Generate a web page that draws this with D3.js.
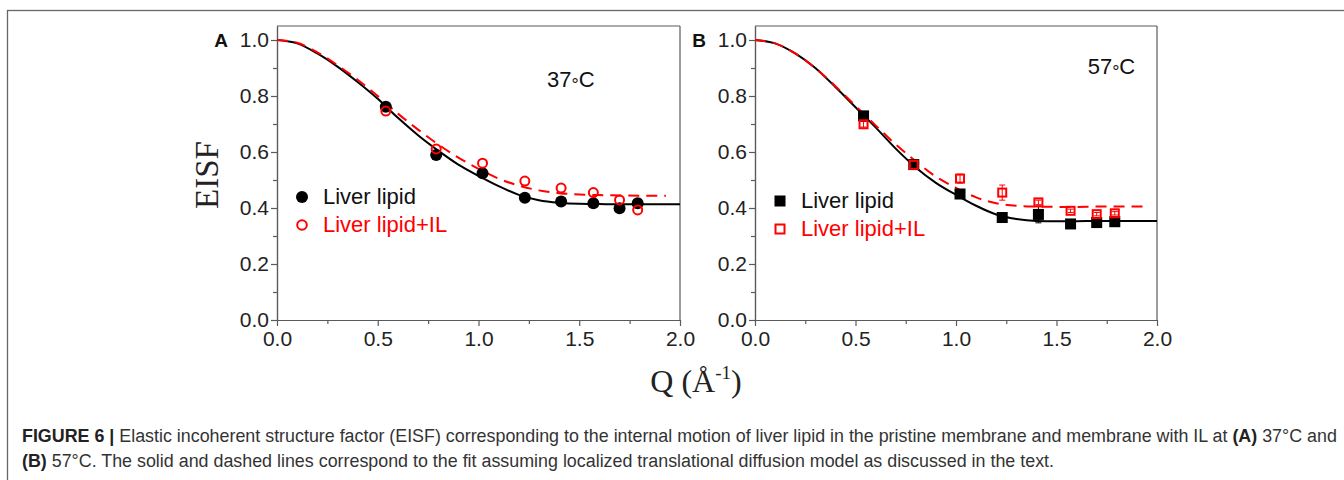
<!DOCTYPE html>
<html>
<head>
<meta charset="utf-8">
<title>EISF</title>
<script src="https://cdn.jsdelivr.net/npm/d3@7/dist/d3.min.js"></script>
<style>
  body { margin: 0; background: #fff; }
</style>
</head>
<body>
<div id="main-container"></div>
<script>
// measured Q points (same for both panels)
var qData = [0.54, 0.79, 1.02, 1.23, 1.41, 1.57, 1.70, 1.79];

// panel A, 37 C
var eisfA_lipid = [0.762, 0.589, 0.524, 0.437, 0.423, 0.417, 0.399, 0.417];
var eisfA_IL    = [0.746, 0.611, 0.560, 0.496, 0.471, 0.455, 0.429, 0.393];

// panel B, 57 C
var eisfB_lipid = [0.729, 0.555, 0.450, 0.366, 0.377, 0.343, 0.348, 0.351];
var eisfB_IL    = [0.699, 0.554, 0.505, 0.455, 0.420, 0.390, 0.378, 0.381];
var errB_lipid  = [0.008, 0.008, 0.010, 0.006, 0.030, 0.006, 0.006, 0.006];
var errB_IL     = [0.010, 0.010, 0.016, 0.027, 0.008, 0.006, 0.006, 0.006];

// fit curves
var qFit   = [0, 0.1, 0.2, 0.3, 0.4, 0.5, 0.6, 0.7, 0.8, 0.9, 1.0, 1.1, 1.2, 1.3, 1.4, 1.5, 1.6, 1.7, 1.8, 1.9, 2.0];
var qFitIL = [0, 0.1, 0.2, 0.3, 0.4, 0.5, 0.6, 0.7, 0.8, 0.9, 1.0, 1.1, 1.2, 1.3, 1.4, 1.5, 1.6, 1.7, 1.8, 1.9, 1.93];
var fitA_lipid = [1.0, 0.988, 0.952, 0.905, 0.850, 0.790, 0.722, 0.660, 0.605, 0.555, 0.515, 0.478, 0.447, 0.428, 0.419, 0.415, 0.414, 0.413, 0.413, 0.413, 0.413];
var fitA_IL    = [1.0, 0.990, 0.956, 0.910, 0.858, 0.800, 0.737, 0.680, 0.627, 0.580, 0.540, 0.505, 0.480, 0.463, 0.453, 0.448, 0.446, 0.445, 0.444, 0.444, 0.444];
var fitB_lipid = [1.0, 0.988, 0.952, 0.900, 0.832, 0.760, 0.688, 0.612, 0.545, 0.490, 0.447, 0.408, 0.377, 0.361, 0.354, 0.353, 0.353, 0.354, 0.354, 0.354, 0.354];
var fitB_IL    = [1.0, 0.988, 0.952, 0.900, 0.835, 0.765, 0.695, 0.627, 0.567, 0.512, 0.472, 0.438, 0.417, 0.408, 0.405, 0.404, 0.404, 0.405, 0.405, 0.405, 0.405];

var yTicks = [0, 0.2, 0.4, 0.6, 0.8, 1.0];
var yMinor = [0.1, 0.3, 0.5, 0.7, 0.9];
var xTicks = [0, 0.5, 1.0, 1.5, 2.0];
var xMinor = [0.25, 0.75, 1.25, 1.75];

var legendNames = ['Liver lipid', 'Liver lipid+IL'];

var axisCol = '#5a5a5a';
var red = '#ff0000';

var svg = d3.select('#main-container')
  .append('svg')
    .attr('width', 1344)
    .attr('height', 480);

// outer frame of the figure
svg.append('rect')
  .attr('x', 7.5).attr('y', 10.5)
  .attr('width', 1400).attr('height', 600)
  .attr('fill', 'none')
  .attr('stroke', '#666')
  .attr('stroke-width', 1.3);

var y = d3.scaleLinear().domain([0, 1.05]).range([320, 26]);

function drawPanel(p) {
  var x = d3.scaleLinear().domain([0, 2]).range([p.x0, p.x1]);
  var g = svg.append('g');

  var yAxis = g.append('g')
    .attr('transform', 'translate(' + p.x0 + ',0)')
    .call(d3.axisLeft(y).tickValues(yTicks).tickSize(6).tickSizeOuter(0).tickFormat(d3.format('.1f')));
  g.append('g')
    .attr('transform', 'translate(' + p.x0 + ',0)')
    .call(d3.axisLeft(y).tickValues(yMinor).tickSize(4).tickSizeOuter(0).tickFormat(''));
  var xAxis = g.append('g')
    .attr('transform', 'translate(0,320)')
    .call(d3.axisBottom(x).tickValues(xTicks).tickSize(6).tickSizeOuter(0).tickFormat(d3.format('.1f')));
  g.append('g')
    .attr('transform', 'translate(0,320)')
    .call(d3.axisBottom(x).tickValues(xMinor).tickSize(4).tickSizeOuter(0).tickFormat(''));

  g.selectAll('.domain, .tick line').attr('stroke', axisCol).attr('stroke-width', 1.2);
  g.selectAll('.tick text')
    .attr('font-family', 'Arial, "Liberation Sans", sans-serif')
    .attr('font-size', '21px')
    .attr('fill', '#222');
  yAxis.selectAll('.tick text').attr('x', -8);
  xAxis.selectAll('.tick text').attr('y', 11);

  // top and right frame lines
  g.append('line')
    .attr('x1', x(0)).attr('x2', x(2))
    .attr('y1', y(1.05)).attr('y2', y(1.05))
    .attr('stroke', axisCol).attr('stroke-width', 1.2);
  g.append('line')
    .attr('x1', x(2)).attr('x2', x(2))
    .attr('y1', y(1.05)).attr('y2', y(0))
    .attr('stroke', axisCol).attr('stroke-width', 1.2);

  // panel letter
  g.append('text')
    .attr('x', p.x0 - 49).attr('y', 47)
    .attr('text-anchor', 'end')
    .attr('font-family', 'Arial, "Liberation Sans", sans-serif')
    .attr('font-weight', 'bold')
    .attr('font-size', '19px')
    .attr('fill', '#111')
    .text(p.letter);

  // temperature, with a small lowered degree ring
  var tt = g.append('text')
    .attr('x', x(p.tempQ)).attr('y', p.tempY)
    .attr('font-family', 'Arial, "Liberation Sans", sans-serif')
    .attr('font-size', '22px')
    .attr('fill', '#111');
  tt.append('tspan').text(p.temp);
  tt.append('tspan').attr('dy', 4).attr('font-size', '18px').text('\u00B0');
  tt.append('tspan').attr('dy', -4).text('C');

  var line = d3.line()
    .x(function(d) { return x(d[0]); })
    .y(function(d) { return y(d[1]); })
    .curve(d3.curveMonotoneX);

  g.append('path')
    .datum(d3.zip(qFit, p.fitLipid))
    .attr('d', line)
    .attr('fill', 'none')
    .attr('stroke', '#000')
    .attr('stroke-width', 2);
  g.append('path')
    .datum(d3.zip(qFitIL, p.fitIL))
    .attr('d', line)
    .attr('fill', 'none')
    .attr('stroke', red)
    .attr('stroke-width', 2)
    .attr('stroke-dasharray', '11,7');

  // error bars
  if (p.errLipid) {
    var eb = [];
    qData.forEach(function(q, i) {
      eb.push({ q: q, v: p.lipid[i], e: p.errLipid[i], c: '#000' });
      eb.push({ q: q, v: p.il[i], e: p.errIL[i], c: red });
    });
    var ebg = g.selectAll('.eb').data(eb).enter().append('g');
    ebg.append('line')
      .attr('x1', function(d) { return x(d.q); }).attr('x2', function(d) { return x(d.q); })
      .attr('y1', function(d) { return y(d.v - d.e); }).attr('y2', function(d) { return y(d.v + d.e); })
      .attr('stroke', function(d) { return d.c; }).attr('stroke-width', 1);
    [-1, 1].forEach(function(s) {
      ebg.append('line')
        .attr('x1', function(d) { return x(d.q) - 3; }).attr('x2', function(d) { return x(d.q) + 3; })
        .attr('y1', function(d) { return y(d.v + s * d.e); }).attr('y2', function(d) { return y(d.v + s * d.e); })
        .attr('stroke', function(d) { return d.c; }).attr('stroke-width', 1);
    });
  }

  // markers
  if (p.shape == 'circle') {
    g.selectAll('.ml').data(d3.zip(qData, p.lipid)).enter()
      .append('circle')
        .attr('cx', function(d) { return x(d[0]); })
        .attr('cy', function(d) { return y(d[1]); })
        .attr('r', 6)
        .attr('fill', '#000');
    g.selectAll('.mi').data(d3.zip(qData, p.il)).enter()
      .append('circle')
        .attr('cx', function(d) { return x(d[0]); })
        .attr('cy', function(d) { return y(d[1]); })
        .attr('r', 4.5)
        .attr('fill', 'none')
        .attr('stroke', red)
        .attr('stroke-width', 2);
  } else {
    g.selectAll('.ml').data(d3.zip(qData, p.lipid)).enter()
      .append('rect')
        .attr('x', function(d) { return x(d[0]) - 5.5; })
        .attr('y', function(d) { return y(d[1]) - 5.5; })
        .attr('width', 11).attr('height', 11)
        .attr('fill', '#000');
    g.selectAll('.mi').data(d3.zip(qData, p.il)).enter()
      .append('rect')
        .attr('x', function(d) { return x(d[0]) - 4; })
        .attr('y', function(d) { return y(d[1]) - 4; })
        .attr('width', 8).attr('height', 8)
        .attr('fill', 'none')
        .attr('stroke', red)
        .attr('stroke-width', 2);
  }

  // legend
  var lg = g.append('g').attr('transform', 'translate(' + (p.x0 + 25) + ',' + p.legY + ')');
  if (p.shape == 'circle') {
    lg.append('circle').attr('cx', 0).attr('cy', 0).attr('r', 6).attr('fill', '#000');
    lg.append('circle').attr('cx', 0).attr('cy', 28).attr('r', 4.8)
      .attr('fill', 'none').attr('stroke', red).attr('stroke-width', 2);
  } else {
    lg.append('rect').attr('x', -5.5).attr('y', -5.5).attr('width', 11).attr('height', 11).attr('fill', '#000');
    lg.append('rect').attr('x', -4.5).attr('y', 23.5).attr('width', 9).attr('height', 9)
      .attr('fill', 'none').attr('stroke', red).attr('stroke-width', 2);
  }
  lg.selectAll('text').data(legendNames).enter()
    .append('text')
      .attr('x', 21)
      .attr('y', function(d, i) { return 7 + i * 28; })
      .attr('font-family', 'Arial, "Liberation Sans", sans-serif')
      .attr('font-size', '22px')
      .attr('fill', function(d, i) { return i == 0 ? '#111' : red; })
      .text(function(d) { return d; });
}

drawPanel({
  x0: 277, x1: 680, letter: 'A', temp: '37', tempQ: 1.34, tempY: 87,
  lipid: eisfA_lipid, il: eisfA_IL, fitLipid: fitA_lipid, fitIL: fitA_IL,
  shape: 'circle', legY: 197
});
drawPanel({
  x0: 755, x1: 1157, letter: 'B', temp: '57', tempQ: 1.655, tempY: 74,
  lipid: eisfB_lipid, il: eisfB_IL, fitLipid: fitB_lipid, fitIL: fitB_IL,
  errLipid: errB_lipid, errIL: errB_IL,
  shape: 'square', legY: 201
});

// axis titles
svg.append('text')
  .attr('transform', 'translate(218,175) rotate(-90)')
  .attr('text-anchor', 'middle')
  .attr('font-family', '"Liberation Serif", "Times New Roman", serif')
  .attr('font-size', '33px')
  .attr('fill', '#222')
  .text('EISF');

var qLab = svg.append('text')
  .attr('x', 696).attr('y', 392)
  .attr('text-anchor', 'middle')
  .attr('font-family', '"Liberation Serif", "Times New Roman", serif')
  .attr('font-size', '32px')
  .attr('fill', '#222');
qLab.append('tspan').text('Q (\u00C5');
qLab.append('tspan').attr('font-size', '19px').attr('dy', -13).text('-1');
qLab.append('tspan').attr('dy', 13).text(')');

// caption
var capFont = 'Arial, "Liberation Sans", sans-serif';
var cap1 = svg.append('text').attr('x', 22).attr('y', 442)
  .attr('font-family', capFont).attr('font-size', '16px').attr('fill', '#333');
cap1.append('tspan').attr('font-weight', 'bold').attr('fill', '#222').text('FIGURE 6 | ');
cap1.append('tspan').text('Elastic incoherent structure factor (EISF) corresponding to the internal motion of liver lipid in the pristine membrane and membrane with IL at ');
cap1.append('tspan').attr('font-weight', 'bold').attr('fill', '#222').text('(A)');
cap1.append('tspan').text(' 37\u00B0C and');

var cap2 = svg.append('text').attr('x', 22).attr('y', 467)
  .attr('font-family', capFont).attr('font-size', '16px').attr('fill', '#333');
cap2.append('tspan').attr('font-weight', 'bold').attr('fill', '#222').text('(B)');
cap2.append('tspan').text(' 57\u00B0C. The solid and dashed lines correspond to the fit assuming localized translational diffusion model as discussed in the text.');

// fit caption width to the reference line length
var w1 = cap1.node().getComputedTextLength();
var fs = 16 * 1316 / w1;
cap1.attr('font-size', fs + 'px');
cap2.attr('font-size', fs + 'px');
</script>
</body>
</html>
